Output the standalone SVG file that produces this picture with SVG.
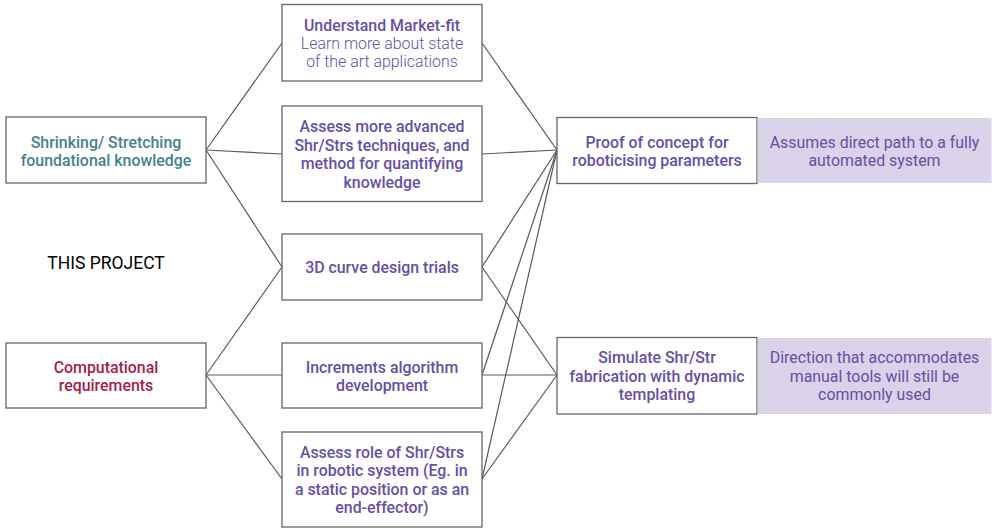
<svg xmlns="http://www.w3.org/2000/svg" width="996" height="532" viewBox="0 0 996 532">
<style>
.box{fill:#fff;stroke:#666;stroke-width:1.3}
.note{fill:#d9d2e9;stroke:none}
text{font-family:Roboto,"Liberation Sans",sans-serif;font-size:15.9px;text-anchor:middle;dominant-baseline:central}
.m{fill:#674ea7;font-weight:500}
.l{fill:#674ea7;font-weight:300}
.n{fill:#674ea7;font-weight:400}
.teal{fill:#45818e;font-weight:500}
.red{fill:#a61c4b;font-weight:500}
.conn line{stroke:#595959;stroke-width:1.2}
</style>
<g class="conn" id="connectors">
<line x1="206" y1="150" x2="282" y2="43"/>
<line x1="206" y1="150" x2="282" y2="154"/>
<line x1="206" y1="150" x2="282" y2="267"/>
<line x1="206" y1="375" x2="282" y2="267"/>
<line x1="206" y1="375" x2="282" y2="375"/>
<line x1="206" y1="375" x2="282" y2="479"/>
<line x1="482" y1="43" x2="557" y2="150"/>
<line x1="482" y1="154" x2="557" y2="150"/>
<line x1="482" y1="267" x2="557" y2="150"/>
<line x1="482" y1="267" x2="557" y2="375"/>
<line x1="482" y1="375" x2="557" y2="150"/>
<line x1="482" y1="375" x2="557" y2="375"/>
<line x1="482" y1="479" x2="557" y2="150"/>
<line x1="482" y1="479" x2="557" y2="375"/>
</g>
<g id="shrinking">
<rect class="box" x="6" y="117" width="200" height="66"/>
<text class="teal" x="106" y="142">Shrinking/ Stretching</text>
<text class="teal" x="106" y="160">foundational knowledge</text>
</g>
<g id="this-project">
<text x="106" y="263" style="fill:#000;font-size:17.5px;font-weight:400">THIS PROJECT</text>
</g>
<g id="computational">
<rect class="box" x="6" y="343" width="200" height="65"/>
<text class="red" x="106" y="367">Computational</text>
<text class="red" x="106" y="385">requirements</text>
</g>
<g id="market">
<rect class="box" x="282" y="4.5" width="200" height="76.5"/>
<text class="m" x="382" y="25">Understand Market-fit</text>
<text class="l" x="382" y="43">Learn more about state</text>
<text class="l" x="382" y="61">of the art applications</text>
</g>
<g id="assess-advanced">
<rect class="box" x="282" y="106" width="200" height="95.5"/>
<text class="m" x="382" y="126">Assess more advanced</text>
<text class="m" x="382" y="145">Shr/Strs techniques, and</text>
<text class="m" x="382" y="163">method for quantifying</text>
<text class="m" x="382" y="182">knowledge</text>
</g>
<g id="curve">
<rect class="box" x="282" y="234" width="200" height="66"/>
<text class="m" x="382" y="267">3D curve design trials</text>
</g>
<g id="increments">
<rect class="box" x="282" y="343" width="200" height="65"/>
<text class="m" x="382" y="367">Increments algorithm</text>
<text class="m" x="382" y="385">development</text>
</g>
<g id="assess-role">
<rect class="box" x="282" y="432" width="200" height="95"/>
<text class="m" x="382" y="452">Assess role of Shr/Strs</text>
<text class="m" x="382" y="470">in robotic system (Eg. in</text>
<text class="m" x="382" y="489">a static position or as an</text>
<text class="m" x="382" y="507">end-effector)</text>
</g>
<g id="proof">
<rect class="box" x="557" y="117.5" width="200" height="66"/>
<text class="m" x="657" y="142">Proof of concept for</text>
<text class="m" x="657" y="160">roboticising parameters</text>
</g>
<g id="proof-note">
<rect class="note" x="757.5" y="118" width="234" height="65"/>
<text class="n" x="874.5" y="142">Assumes direct path to a fully</text>
<text class="n" x="874.5" y="160">automated system</text>
</g>
<g id="simulate">
<rect class="box" x="557" y="337.5" width="200" height="76.5"/>
<text class="m" x="657" y="357">Simulate Shr/Str</text>
<text class="m" x="657" y="376">fabrication with dynamic</text>
<text class="m" x="657" y="394">templating</text>
</g>
<g id="simulate-note">
<rect class="note" x="757.5" y="338" width="234" height="76"/>
<text class="n" x="874.5" y="357">Direction that accommodates</text>
<text class="n" x="874.5" y="376">manual tools will still be</text>
<text class="n" x="874.5" y="394">commonly used</text>
</g>
</svg>
